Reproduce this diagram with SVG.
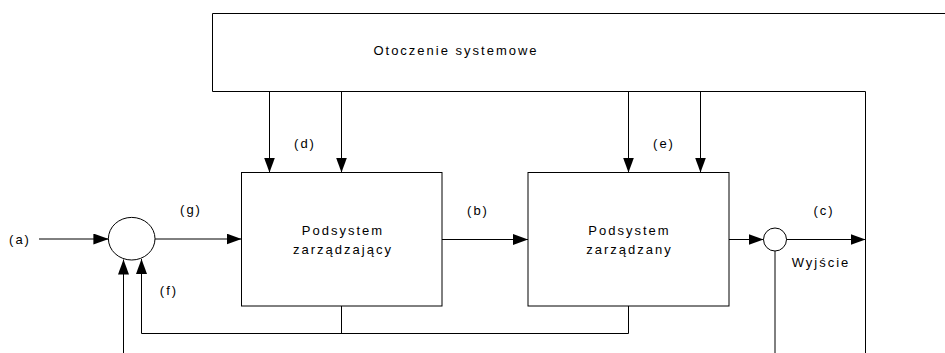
<svg xmlns="http://www.w3.org/2000/svg" width="945" height="353" viewBox="0 0 945 353">
<defs>
<marker id="arr" markerWidth="15" markerHeight="11" refX="15" refY="5.5" orient="auto" markerUnits="userSpaceOnUse">
<path d="M0,0 L15,5.5 L0,11 Z" fill="#000"/>
</marker>
<style>
.ln{fill:none;stroke:#000;stroke-width:1}
.bx{fill:#fff;stroke:#000;stroke-width:1}
.t{font-family:"Liberation Sans",Arial,sans-serif;font-size:13px;letter-spacing:2px;fill:#000;text-anchor:middle}
</style>
</defs>
<rect width="945" height="353" fill="#fff"/>
<g id="otoczenie">
<path class="ln" d="M945,13.5 H212.5 V91.5 H865.5 V353"/>
<text class="t" x="456" y="55">Otoczenie systemowe</text>
</g>
<g id="sumator">
<ellipse class="bx" cx="131.7" cy="238.7" rx="23.3" ry="21.3"/>
</g>
<g id="podsystem-zarzadzajacy">
<rect class="bx" x="241.5" y="172.5" width="200.5" height="133.5"/>
<text class="t" x="343" y="235">Podsystem</text>
<text class="t" x="343" y="254">zarządzający</text>
</g>
<g id="podsystem-zarzadzany">
<rect class="bx" x="528" y="172.5" width="201" height="133.5"/>
<text class="t" x="629.5" y="235">Podsystem</text>
<text class="t" x="629.5" y="254">zarządzany</text>
</g>
<g id="wezel-wyjscia">
<circle class="bx" cx="775" cy="239.5" r="11.5"/>
</g>
<g id="connectors">
<line class="ln" x1="39" y1="239" x2="108.4" y2="239" marker-end="url(#arr)"/>
<line class="ln" x1="155" y1="239" x2="241.5" y2="239" marker-end="url(#arr)"/>
<line class="ln" x1="442" y1="239.5" x2="528" y2="239.5" marker-end="url(#arr)"/>
<line class="ln" x1="729" y1="239.5" x2="763.5" y2="239.5" marker-end="url(#arr)"/>
<line class="ln" x1="786.5" y1="239.5" x2="865.5" y2="239.5" marker-end="url(#arr)"/>
<line class="ln" x1="269.5" y1="91.5" x2="269.5" y2="172.5" marker-end="url(#arr)"/>
<line class="ln" x1="341.5" y1="91.5" x2="341.5" y2="172.5" marker-end="url(#arr)"/>
<line class="ln" x1="628.5" y1="91.5" x2="628.5" y2="172.5" marker-end="url(#arr)"/>
<line class="ln" x1="700.5" y1="91.5" x2="700.5" y2="172.5" marker-end="url(#arr)"/>
<path class="ln" d="M341.5,306 V333.5 M628.5,306 V333.5 H141.5 V259" marker-end="url(#arr)"/>
<line class="ln" x1="123.5" y1="353" x2="123.5" y2="259.5" marker-end="url(#arr)"/>
<line class="ln" x1="775" y1="251" x2="775" y2="353"/>
</g>
<g id="etykiety">
<text class="t" x="20" y="243.5">(a)</text>
<text class="t" x="191" y="213.5">(g)</text>
<text class="t" x="478" y="214.5">(b)</text>
<text class="t" x="824" y="214.5">(c)</text>
<text class="t" x="305" y="147.5">(d)</text>
<text class="t" x="664" y="147.5">(e)</text>
<text class="t" x="169" y="294.5">(f)</text>
<text class="t" x="821" y="267">Wyjście</text>
</g>
</svg>
